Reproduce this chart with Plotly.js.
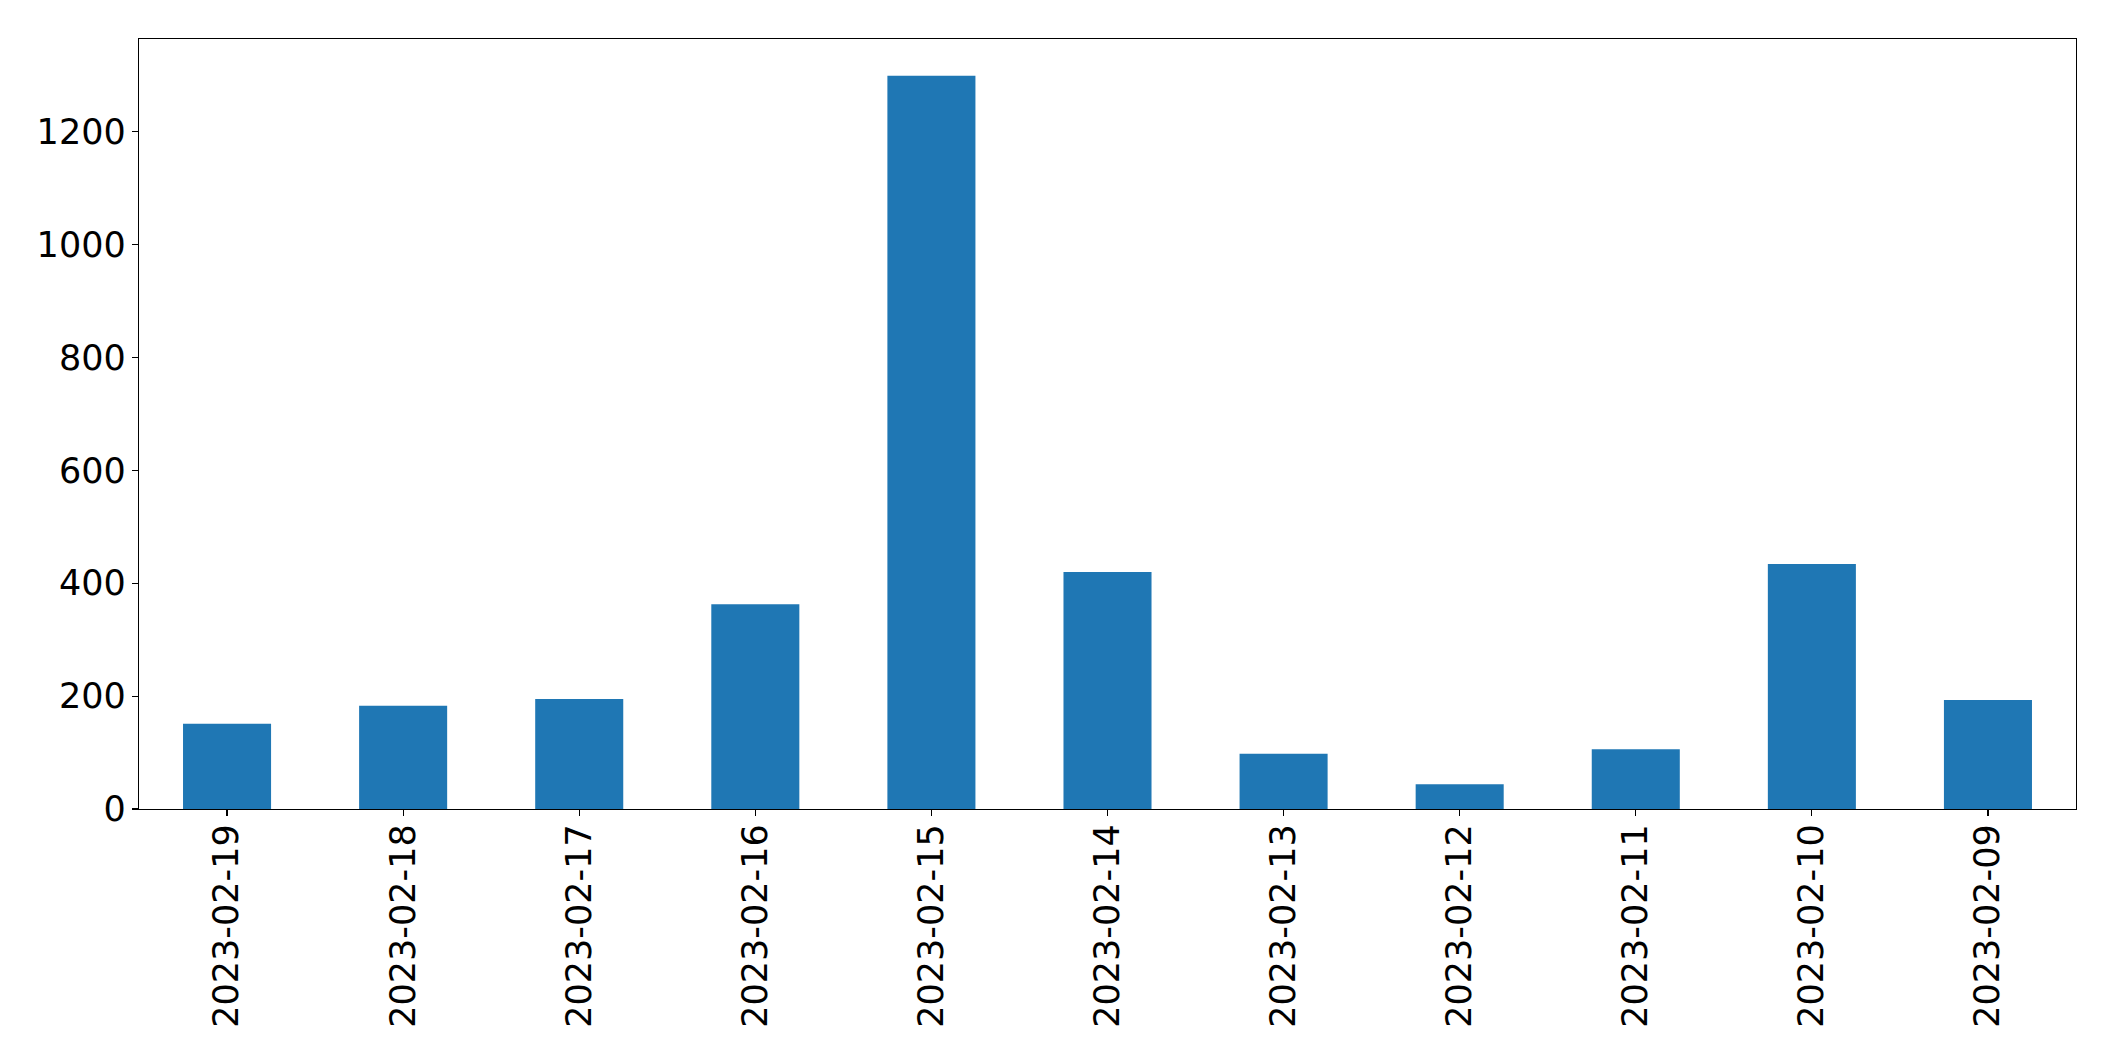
<!DOCTYPE html>
<html>
<head>
<meta charset="utf-8">
<script src="https://cdn.plot.ly/plotly-3.0.1.min.js"></script>
<style>
  html, body { margin: 0; padding: 0; background: #ffffff; }
  #chart { width: 2115px; height: 1061px; }
</style>
</head>
<body>
<div id="chart"></div>
<script>
const dates = ["2023-02-19", "2023-02-18", "2023-02-17", "2023-02-16", "2023-02-15", "2023-02-14", "2023-02-13", "2023-02-12", "2023-02-11", "2023-02-10", "2023-02-09"];
const counts = [151, 183, 195, 363, 1299, 420, 98, 44, 106, 434, 193];
const yTicks = [0, 200, 400, 600, 800, 1000, 1200];

const font = { family: "DejaVu Sans, sans-serif", size: 35, color: "#000000" };

const trace = {
  type: "bar",
  x: dates,
  y: counts,
  width: 0.5,
  marker: { color: "#1f77b4", line: { width: 0 } },
  hoverinfo: "x+y"
};

const layout = {
  width: 2115,
  height: 1061,
  paper_bgcolor: "#ffffff",
  plot_bgcolor: "#ffffff",
  margin: { l: 139, r: 39, t: 39, b: 252, pad: 0 },
  showlegend: false,
  font: font,
  xaxis: {
    type: "category",
    categoryorder: "array",
    categoryarray: dates,
    range: [-0.5, 10.5],
    tickangle: -90,
    ticks: "outside",
    ticklen: 6,
    tickwidth: 1.2,
    tickcolor: "#000000",
    ticklabelstandoff: -6,
    showline: true,
    linecolor: "#000000",
    linewidth: 1.3,
    mirror: true,
    showgrid: false,
    zeroline: false,
    tickfont: font
  },
  yaxis: {
    range: [0, 1364.3],
    tickmode: "array",
    tickvals: yTicks,
    ticktext: yTicks.map(String),
    ticks: "outside",
    ticklen: 6,
    tickwidth: 1.2,
    tickcolor: "#000000",
    ticklabelstandoff: -1,
    showline: true,
    linecolor: "#000000",
    linewidth: 1.3,
    mirror: true,
    showgrid: false,
    zeroline: false,
    tickfont: font
  },
  bargap: 0.5
};

Plotly.newPlot("chart", [trace], layout, { staticPlot: true, displayModeBar: false });
</script>
</body>
</html>
